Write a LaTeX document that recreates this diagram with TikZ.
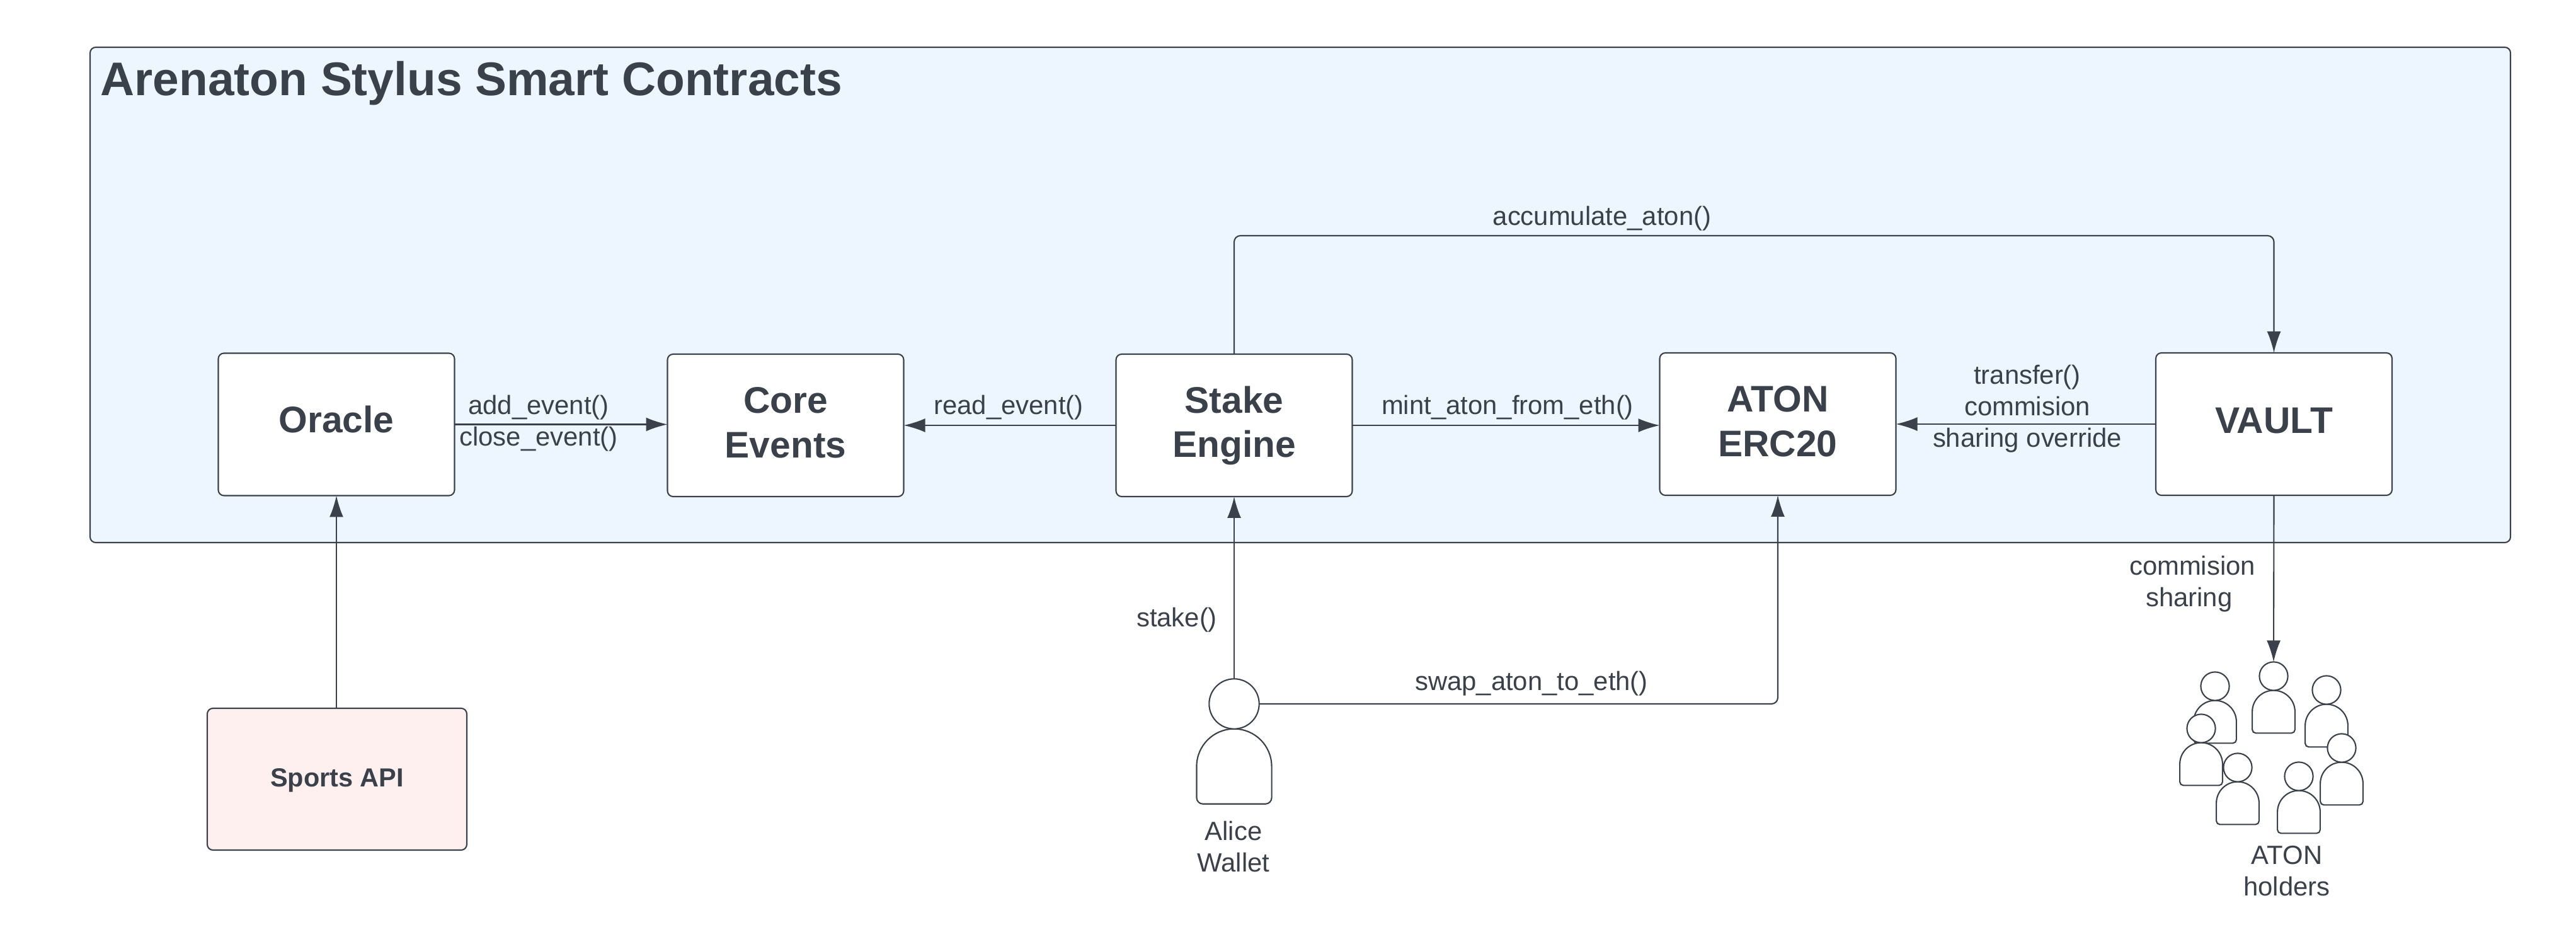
\documentclass[tikz,border=0pt]{standalone}
\usepackage{fontspec}
\setmainfont{Liberation Sans}
\usetikzlibrary{arrows.meta}
\definecolor{inkdark}{HTML}{3A414A}
\definecolor{framefill}{HTML}{EDF5FF}
\definecolor{apifill}{HTML}{FFF0F0}
\tikzset{
  frameline/.style={draw=inkdark,line width=0.6pt,rounded corners=0.09cm},
  contract/.style={frameline,fill=white,align=center,text=inkdark,inner sep=0pt,outer sep=0pt,text depth=2.6pt,
    minimum width=3.75cm,minimum height=2.26cm,font=\fontsize{16.7}{20}\selectfont\bfseries},
  arrowline/.style={draw=inkdark,line width=0.6pt,rounded corners=0.1cm,
    -{Latex[length=0.34cm,width=0.22cm]}},
  plainlabel/.style={text=inkdark,align=center,inner sep=0pt,font=\fontsize{11.9}{14.2}\selectfont},
  headshape/.style={circle,draw=inkdark,line width=0.6pt,fill=white,inner sep=0pt,outer sep=0pt}
}
\newcommand{\personshape}[4]{
  \begin{scope}[shift={(#2,#3)},scale=#4]
    \draw[inkdark,line width=0.6pt,fill=white] (-1.5,-2.5) arc[start angle=180,end angle=0,radius=1.5]
      -- (1.5,-3.75) arc[start angle=0,end angle=-90,radius=0.25]
      -- (-1.25,-4) arc[start angle=-90,end angle=-180,radius=0.25] -- cycle;
  \end{scope}
  \node[headshape,minimum size=#4*2cm] (#1) at (#2,#3) {};
}
\begin{document}
\begin{tikzpicture}
    \useasboundingbox (0,0) rectangle (40.89,-14.79);
    \node[frameline,fill=framefill,inner sep=0pt,outer sep=0pt,minimum width=38.42cm,minimum height=7.86cm] (frame) at (20.64,-4.68) {};
    \node[text=inkdark,anchor=base west,inner sep=0pt,font=\fontsize{21.3}{26}\selectfont\bfseries] (title) at (1.59,-1.52) {Arenaton Stylus Smart Contracts};

    \node[contract,text depth=4.8pt] (oracle) at (5.34,-6.735) {Oracle};
    \node[contract] (core) at (12.47,-6.75) {Core\\Events};
    \node[contract,text depth=3.2pt] (stake) at (19.59,-6.75) {Stake\\Engine};
    \node[contract] (aton) at (28.22,-6.73) {ATON\\ERC20};
    \node[contract,text depth=3.4pt] (vault) at (36.095,-6.73) {VAULT};
    \node[frameline,fill=apifill,text=inkdark,inner sep=0pt,outer sep=0pt,text depth=1.5pt,minimum width=4.12cm,minimum height=2.25cm,font=\fontsize{11.8}{14}\selectfont\bfseries] (api) at (5.35,-12.365) {Sports API};

    \personshape{alice}{19.59}{-11.17}{0.397}
    \personshape{holderb}{35.16}{-10.89}{0.226}
    \personshape{holdera}{36.09}{-10.73}{0.226}
    \personshape{holderc}{36.93}{-10.95}{0.226}
    \personshape{holdere}{35.52}{-12.18}{0.226}
    \personshape{holderd}{34.94}{-11.56}{0.226}
    \personshape{holderg}{37.17}{-11.87}{0.226}
    \personshape{holderf}{36.49}{-12.32}{0.226}

    \draw[arrowline] (oracle.east) to (oracle.east -| core.west);
    \draw[arrowline] (stake.west) to (stake.west -| core.east);
    \draw[arrowline] (stake.east) to (stake.east -| aton.west);
    \draw[arrowline] (vault.west) to (aton.east);
    \coordinate (acctop) at (28,-3.74);
    \draw[arrowline] (stake.north) |- (acctop) -| (vault.north);
    \draw[arrowline] (api.north -| oracle.south) to (oracle.south);
    \draw[arrowline] (alice.north) to (stake.south);
    \draw[arrowline] (alice.east) -| (aton.south);
    \draw[arrowline] (vault.south) to (holdera.north);

    \node[plainlabel] (addlabel) at (8.55,-6.47) {add\_event()};
    \node[plainlabel] (closelabel) at (8.55,-6.97) {close\_event()};
    \node[plainlabel] (readlabel) at (16.01,-6.47) {read\_event()};
    \node[plainlabel] (mintlabel) at (23.93,-6.47) {mint\_aton\_from\_eth()};
    \node[plainlabel] (transferlabel) at (32.18,-6.49) {transfer()\\commision\\sharing override};
    \node[plainlabel] (acclabel) at (25.43,-3.47) {accumulate\_aton()};
    \node[plainlabel] (sharelabel) at (34.8,-9.27) {commision\\sharing\kern3pt};
    \node[plainlabel] (stakelabel) at (18.68,-9.84) {stake()};
    \node[plainlabel] (swaplabel) at (24.31,-10.85) {swap\_aton\_to\_eth()};
    \node[plainlabel] (alicelabel) at (19.58,-13.44) {Alice\\Wallet};
    \node[plainlabel] (holderlabel) at (36.3,-13.82) {ATON\\holders};
\end{tikzpicture}
\end{document}
